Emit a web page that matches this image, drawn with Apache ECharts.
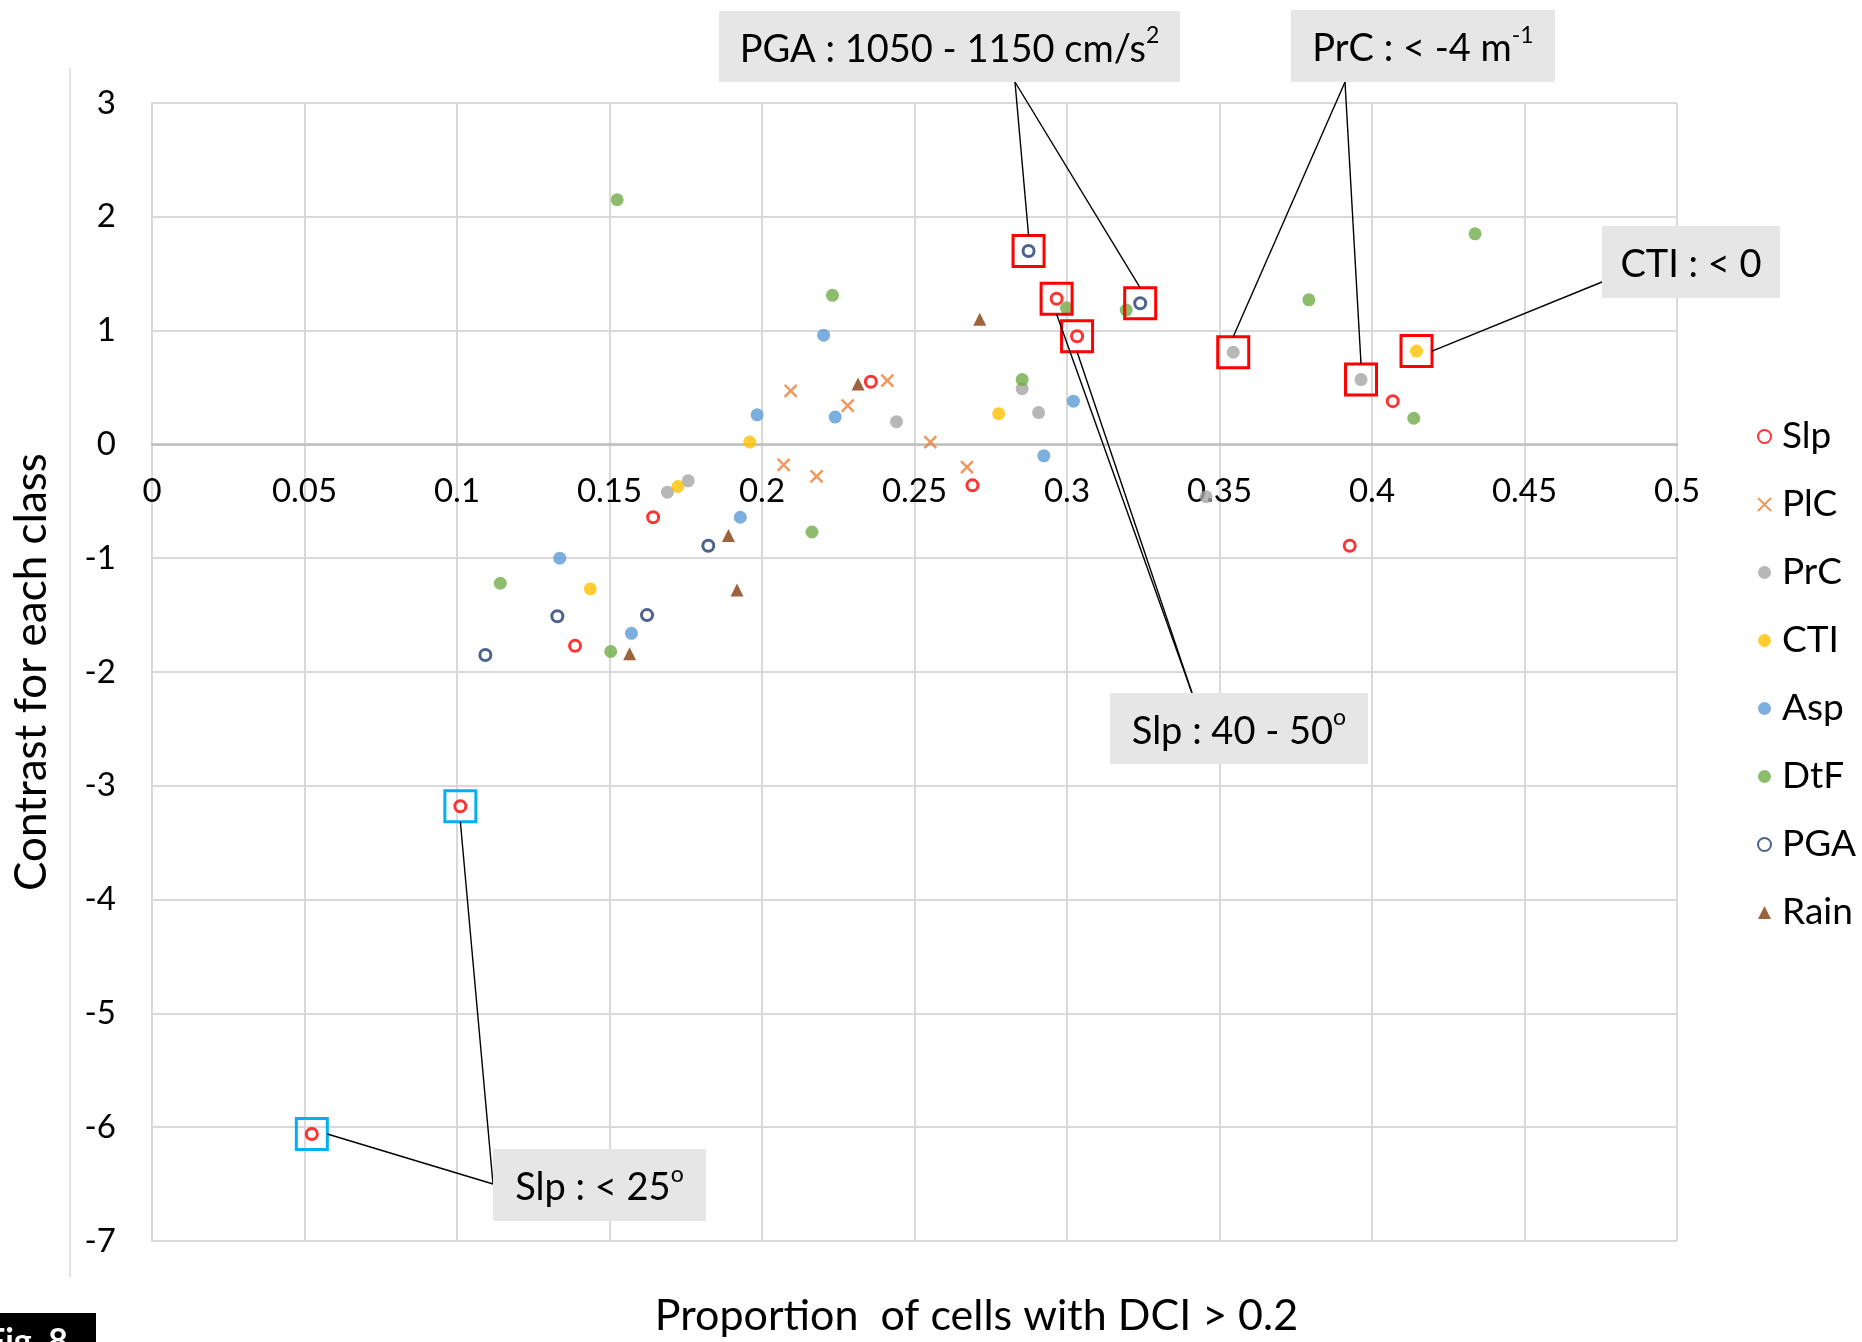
<!DOCTYPE html>
<html><head><meta charset="utf-8">
<script src="https://cdn.jsdelivr.net/npm/echarts@6/dist/echarts.min.js"></script>
<style>html,body{margin:0;padding:0;background:#fff}#c{width:1862px;height:1342px}</style>
</head><body><div id="c"></div>
<script>
// ---- data (x = proportion of cells with DCI > 0.2, y = contrast) ----
const slp  = [[0.0524,-6.06],[0.1011,-3.18],[0.1387,-1.77],[0.1643,-0.64],[0.2357,0.55],[0.269,-0.36],[0.2966,1.28],[0.3033,0.95],[0.3927,-0.89],[0.4068,0.38]];
const plc  = [[0.2071,-0.18],[0.2094,0.47],[0.2179,-0.28],[0.2281,0.34],[0.2411,0.56],[0.2552,0.02],[0.2672,-0.20]];
const prc  = [[0.169,-0.42],[0.1758,-0.32],[0.2441,0.20],[0.2853,0.49],[0.2907,0.28],[0.3456,-0.46],[0.3545,0.81],[0.3964,0.57]];
const cti  = [[0.1437,-1.27],[0.1724,-0.37],[0.196,0.02],[0.2776,0.27],[0.4146,0.82]];
const asp  = [[0.1337,-1.0],[0.1572,-1.66],[0.1929,-0.64],[0.1984,0.26],[0.2202,0.96],[0.224,0.24],[0.2924,-0.10],[0.3021,0.38]];
const dtf  = [[0.1142,-1.22],[0.1504,-1.82],[0.1525,2.15],[0.2164,-0.77],[0.2231,1.31],[0.2853,0.57],[0.2998,1.20],[0.3194,1.18],[0.3793,1.27],[0.4137,0.23],[0.4338,1.85]];
const pga  = [[0.1093,-1.85],[0.1329,-1.51],[0.1623,-1.50],[0.1824,-0.89],[0.2874,1.70],[0.324,1.24]];
const rain = [[0.1566,-1.84],[0.189,-0.80],[0.1918,-1.28],[0.2315,0.53],[0.2714,1.10]];

const seriesNames = ['Slp','PlC','PrC','CTI','Asp','DtF','PGA','Rain'];
const xTickValues = [0,0.05,0.1,0.15,0.2,0.25,0.3,0.35,0.4,0.45,0.5];
const yTickValues = [3,2,1,0,-1,-2,-3,-4,-5,-6,-7];
const xTitle = 'Proportion  of cells with DCI > 0.2';
const yTitle = 'Contrast for each class';

// highlighted points: [series, index, colour]
const highlights = [
  ['PGA',4,'#ff0000'],['PGA',5,'#ff0000'],['Slp',6,'#ff0000'],['Slp',7,'#ff0000'],
  ['PrC',6,'#ff0000'],['PrC',7,'#ff0000'],['CTI',4,'#ff0000'],
  ['Slp',1,'#00b0f0'],['Slp',0,'#00b0f0']
];
// callouts: main text, superscript, box [x,y,w,h], anchor in box, targets [series,index,side]
const callouts = [
  {main:'PGA : 1050 - 1150 cm/s', sup:'2',  box:[719,11,461,71],  anchor:[296,71], targets:[['PGA',4,'top'],['PGA',5,'top']]},
  {main:'PrC : < -4 m',           sup:'-1', box:[1291,10,264,72], anchor:[54,72],  targets:[['PrC',6,'top'],['PrC',7,'top']]},
  {main:'CTI : < 0',              sup:'',   box:[1602,226,178,72],anchor:[0,56],   targets:[['CTI',4,'right']]},
  {main:'Slp : 40 - 50',          sup:'o',  box:[1110,693,258,71],anchor:[82,0],   targets:[['Slp',6,'bottom'],['Slp',7,'bottom']]},
  {main:'Slp : < 25',             sup:'o',  box:[493,1149,213,72],anchor:[0,35],   targets:[['Slp',1,'bottom'],['Slp',0,'right']]}
];

const FONT = 'Lato, "Open Sans", sans-serif';
const dataBy = {Slp:slp, PlC:plc, PrC:prc, CTI:cti, Asp:asp, DtF:dtf, PGA:pga, Rain:rain};

const styles = {
  Slp:  {symbol:'circle', symbolSize:11, itemStyle:{color:'#ffffff', borderColor:'#ff0000', borderWidth:3}},
  PlC:  {symbol:'path://M0,0L10,10M10,0L0,10', symbolSize:12, itemStyle:{color:'#ed7d31', borderColor:'#ed7d31', borderWidth:2.5}},
  PrC:  {symbol:'circle', symbolSize:13, itemStyle:{color:'#a5a5a5'}},
  CTI:  {symbol:'circle', symbolSize:13, itemStyle:{color:'#ffc000'}},
  Asp:  {symbol:'circle', symbolSize:13, itemStyle:{color:'#5b9bd5'}},
  DtF:  {symbol:'circle', symbolSize:13, itemStyle:{color:'#70ad47'}},
  PGA:  {symbol:'circle', symbolSize:11, itemStyle:{color:'#ffffff', borderColor:'#1f3b73', borderWidth:3}},
  Rain: {symbol:'triangle', symbolSize:13, itemStyle:{color:'#843c0c'}}
};

const chart = echarts.init(document.getElementById('c'), null, {renderer:'canvas'});
const option = {
  backgroundColor:'#ffffff',
  animation:false,
  grid:{left:152, right:185, top:103, bottom:101, containLabel:false, outerBoundsMode:'none'},
  legend:{
    orient:'vertical', left:1752, top:413, itemGap:31, itemWidth:13, itemHeight:13,
    data:seriesNames,
    textStyle:{fontFamily:FONT, fontSize:37, color:'#000', padding:[0,0,0,6]}
  },
  xAxis:{
    type:'value', min:xTickValues[0], max:xTickValues[xTickValues.length-1], interval:0.05,
    position:'bottom', offset:0,
    axisLine:{onZero:false, lineStyle:{color:'#bfbfbf', width:2.5}},
    axisTick:{show:false},
    axisLabel:{fontFamily:FONT, fontSize:33, color:'#000', margin:30,
      formatter:v=>{const t=xTickValues.find(a=>Math.abs(a-v)<1e-9); return t===undefined?'':String(t);}},
    splitLine:{show:true, lineStyle:{color:'#d9d9d9', width:2}},
    name:xTitle, nameLocation:'middle', nameGap:850,
    nameTextStyle:{fontFamily:FONT, fontSize:43, color:'#000', padding:[0,0,0,124]}
  },
  yAxis:{
    type:'value', min:yTickValues[yTickValues.length-1], max:yTickValues[0], interval:1,
    axisLine:{show:true, onZero:false, lineStyle:{color:'#d9d9d9', width:2}},
    axisTick:{show:false},
    axisLabel:{fontFamily:FONT, fontSize:33, color:'#000', margin:36},
    splitLine:{show:true, lineStyle:{color:'#d9d9d9', width:2}},
    name:yTitle, nameLocation:'middle', nameGap:98, nameRotate:90,
    nameTextStyle:{fontFamily:FONT, fontSize:44, color:'#000'}
  },
  series:seriesNames.map(n=>Object.assign({type:'scatter', name:n, data:dataBy[n], z:3}, styles[n]))
};
chart.setOption(option);

// move the x axis (line + labels) up to y = 0, as in the reference
const zeroY = chart.convertToPixel({yAxisIndex:0}, 0);
const bottomY = chart.convertToPixel({yAxisIndex:0}, yTickValues[yTickValues.length-1]);
chart.setOption({xAxis:{offset:-(bottomY - zeroY)}});

// ---- annotations built from data positions ----
const H = 15.5;
const px = (s,i)=>chart.convertToPixel({gridIndex:0}, dataBy[s][i]);
const g = [];
// frame line at left and figure tag
g.push({type:'line', shape:{x1:70,y1:68,x2:70,y2:1277}, style:{stroke:'#d9d9d9', lineWidth:1.5}, silent:true});
g.push({type:'rect', shape:{x:0,y:1313,width:96,height:29}, style:{fill:'#000'}, silent:true});
g.push({type:'text', x:-14, y:1325, style:{text:'Fig. 8', fill:'#fff', font:'bold 34px '+FONT}, silent:true});

highlights.forEach(([s,i,c])=>{
  const p = px(s,i);
  g.push({type:'rect', z:20, shape:{x:p[0]-H,y:p[1]-H,width:2*H,height:2*H}, style:{fill:'none', stroke:c, lineWidth:3}, silent:true});
});
callouts.forEach(c=>{
  const [bx,by,bw,bh] = c.box;
  const ax = bx + c.anchor[0], ay = by + c.anchor[1];
  c.targets.forEach(([s,i,side])=>{
    const p = px(s,i);
    let tx=p[0], ty=p[1];
    if(side==='top') ty-=H; else if(side==='bottom') ty+=H; else if(side==='right') tx+=H;
    g.push({type:'line', z:21, shape:{x1:ax,y1:ay,x2:tx,y2:ty}, style:{stroke:'#000', lineWidth:1.4}, silent:true});
  });
  g.push({type:'rect', z:22, shape:{x:bx,y:by,width:bw,height:bh}, style:{fill:'#e6e6e6'}, silent:true});
  g.push({type:'text', z:23, x:bx+bw/2, y:by+bh/2, silent:true, style:{
    text:'{m|'+c.main+'}'+(c.sup?'{s|'+c.sup+'}':''),
    align:'center', verticalAlign:'middle',
    rich:{
      m:{fontFamily:FONT, fontSize:38, fill:'#000', lineHeight:44, verticalAlign:'bottom'},
      s:{fontFamily:FONT, fontSize:23, fill:'#000', lineHeight:22, verticalAlign:'top'}
    }
  }});
});
chart.setOption({graphic:g});
</script>
</body></html>
